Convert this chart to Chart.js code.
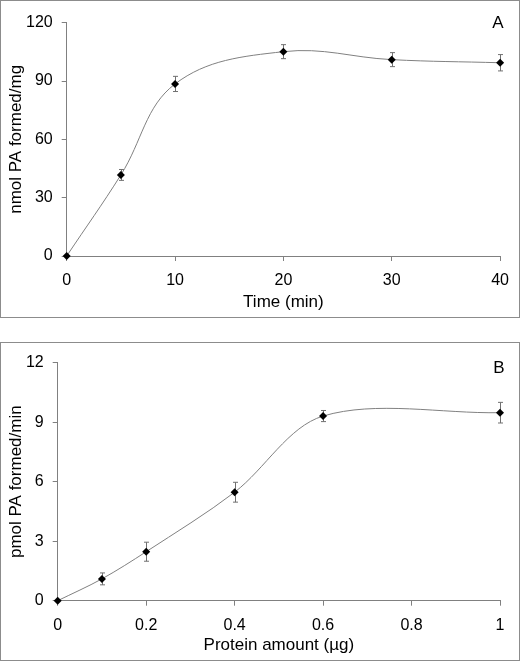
<!DOCTYPE html>
<html>
<head>
<meta charset="utf-8">
<script src="https://cdn.jsdelivr.net/npm/chart.js@4"></script>
<style>
  html, body { margin: 0; padding: 0; background: #fff; }
  body { width: 520px; height: 661px; position: relative; overflow: hidden; }
  .panel { position: absolute; left: 0; width: 518px; border: 1px solid #8c8c8c; background: #fff; }
  #panelA { top: 0; height: 316px; }
  #panelB { top: 342px; height: 317px; }
  canvas { display: block; }
</style>
</head>
<body>
<div class="panel" id="panelA"><canvas id="chartA" width="518" height="316"></canvas></div>
<div class="panel" id="panelB"><canvas id="chartB" width="518" height="317"></canvas></div>
<script>
// panel A: time course
const timeMin = [0, 5, 10, 20, 30, 40];
const paPerMg = [0, 41.7, 88.5, 105.1, 101, 99.4];
const paPerMgErr = [0, 2.8, 3.9, 3.6, 3.6, 4.2];
const xTicksA = [0, 10, 20, 30, 40];
const yTicksA = [0, 30, 60, 90, 120];

// panel B: protein dependence
const proteinUg = [0, 0.1, 0.2, 0.4, 0.6, 1];
const paPerMin = [0, 1.1, 2.47, 5.47, 9.31, 9.48];
const paPerMinErr = [0, 0.3, 0.48, 0.5, 0.28, 0.52];
const xTicksB = [0, 0.2, 0.4, 0.6, 0.8, 1];
const yTicksB = [0, 3, 6, 9, 12];

const FONT = "'Liberation Sans', Arial, sans-serif";
const AXIS = "#808080";

// vertical error bars with small caps, drawn under the markers
const errorBars = {
  id: "errorBars",
  beforeDatasetsDraw(chart) {
    const ctx = chart.ctx;
    const xs = chart.scales.x, ys = chart.scales.y;
    chart.data.datasets.forEach((ds) => {
      if (!ds.errors) return;
      ds.data.forEach((p, i) => {
        const e = ds.errors[i];
        if (!e) return;
        const x = Math.round(xs.getPixelForValue(p.x)) + 0.5;
        const y1 = ys.getPixelForValue(p.y + e);
        const y2 = ys.getPixelForValue(p.y - e);
        ctx.save();
        ctx.strokeStyle = "#707070";
        ctx.lineWidth = 1;
        ctx.beginPath();
        ctx.moveTo(x, y1); ctx.lineTo(x, y2);
        ctx.moveTo(x - 2.5, y1); ctx.lineTo(x + 2.5, y1);
        ctx.moveTo(x - 2.5, y2); ctx.lineTo(x + 2.5, y2);
        ctx.stroke();
        ctx.restore();
      });
    });
  },
};

const panelLabel = {
  id: "panelLabel",
  afterDraw(chart, args, opts) {
    const ctx = chart.ctx;
    ctx.save();
    ctx.fillStyle = "#000";
    ctx.font = "17px " + FONT;
    ctx.textAlign = "center";
    ctx.textBaseline = "middle";
    ctx.fillText(opts.text, chart.width - opts.dx, opts.y);
    ctx.restore();
  },
};

function makeChart(canvas, cfg) {
  const toPoints = (xs, ys) => xs.map((x, i) => ({ x: x, y: ys[i] }));
  return new Chart(canvas.getContext("2d"), {
    type: "line",
    data: {
      datasets: [
        {
          data: toPoints(cfg.x, cfg.y),
          errors: cfg.err,
          borderColor: "#808080",
          borderWidth: 1,
          tension: cfg.tension,
          pointStyle: "rectRot",
          pointRadius: 4,
          pointBackgroundColor: "#000",
          pointBorderColor: "#000",
          pointBorderWidth: 0,
          clip: false,
          fill: false,
        },
      ],
    },
    options: {
      responsive: false,
      animation: false,
      events: [],
      layout: { padding: cfg.pad },
      plugins: {
        legend: { display: false },
        tooltip: { enabled: false },
        panelLabel: cfg.label,
      },
      scales: {
        x: {
          type: "linear",
          min: cfg.xTicks[0],
          max: cfg.xTicks[cfg.xTicks.length - 1],
          afterBuildTicks: (s) => { s.ticks = cfg.xTicks.map((v) => ({ value: v })); },
          afterFit: (s) => { s.height = cfg.xHeight; },
          grid: { drawOnChartArea: false, drawTicks: true, tickLength: 5, color: AXIS },
          border: { color: AXIS, width: 1 },
          ticks: { color: "#000", font: { family: FONT, size: 16 }, padding: cfg.xPad, maxRotation: 0, callback: (v) => String(v) },
          title: { display: true, text: cfg.xTitle, color: "#000", font: { family: FONT, size: 17 }, padding: { top: 4, bottom: 4 } },
        },
        y: {
          type: "linear",
          min: cfg.yTicks[0],
          max: cfg.yTicks[cfg.yTicks.length - 1],
          afterBuildTicks: (s) => { s.ticks = cfg.yTicks.map((v) => ({ value: v })); },
          afterFit: (s) => { s.width = cfg.yWidth; },
          grid: { drawOnChartArea: false, drawTicks: true, tickLength: 5, color: AXIS },
          border: { color: AXIS, width: 1 },
          ticks: { color: "#000", font: { family: FONT, size: 16 }, padding: cfg.yPad, callback: (v) => String(v) },
          title: { display: true, text: cfg.yTitle, color: "#000", font: { family: FONT, size: 17 }, padding: { top: 5, bottom: 4 } },
        },
      },
    },
    plugins: [errorBars, panelLabel],
  });
}

makeChart(document.getElementById("chartA"), {
  x: timeMin, y: paPerMg, err: paPerMgErr,
  xTicks: xTicksA, yTicks: yTicksA,
  xTitle: "Time (min)", yTitle: "nmol PA formed/mg",
  pad: { left: 0, top: 21.7, right: 10.7, bottom: 0 },
  yWidth: 65.7, xHeight: 61, xPad: 10, yPad: 9, tension: 0.38,
  label: { text: "A", dx: 21, y: 22 },
});

makeChart(document.getElementById("chartB"), {
  x: proteinUg, y: paPerMin, err: paPerMinErr,
  xTicks: xTicksB, yTicks: yTicksB,
  xTitle: "Protein amount (µg)", yTitle: "pmol PA formed/min",
  pad: { left: 0, top: 19.7, right: 19, bottom: 0 },
  yWidth: 56.7, xHeight: 59.3, xPad: 10.5, yPad: 9, tension: 0.33,
  label: { text: "B", dx: 20, y: 25 },
});
</script>
</body>
</html>
